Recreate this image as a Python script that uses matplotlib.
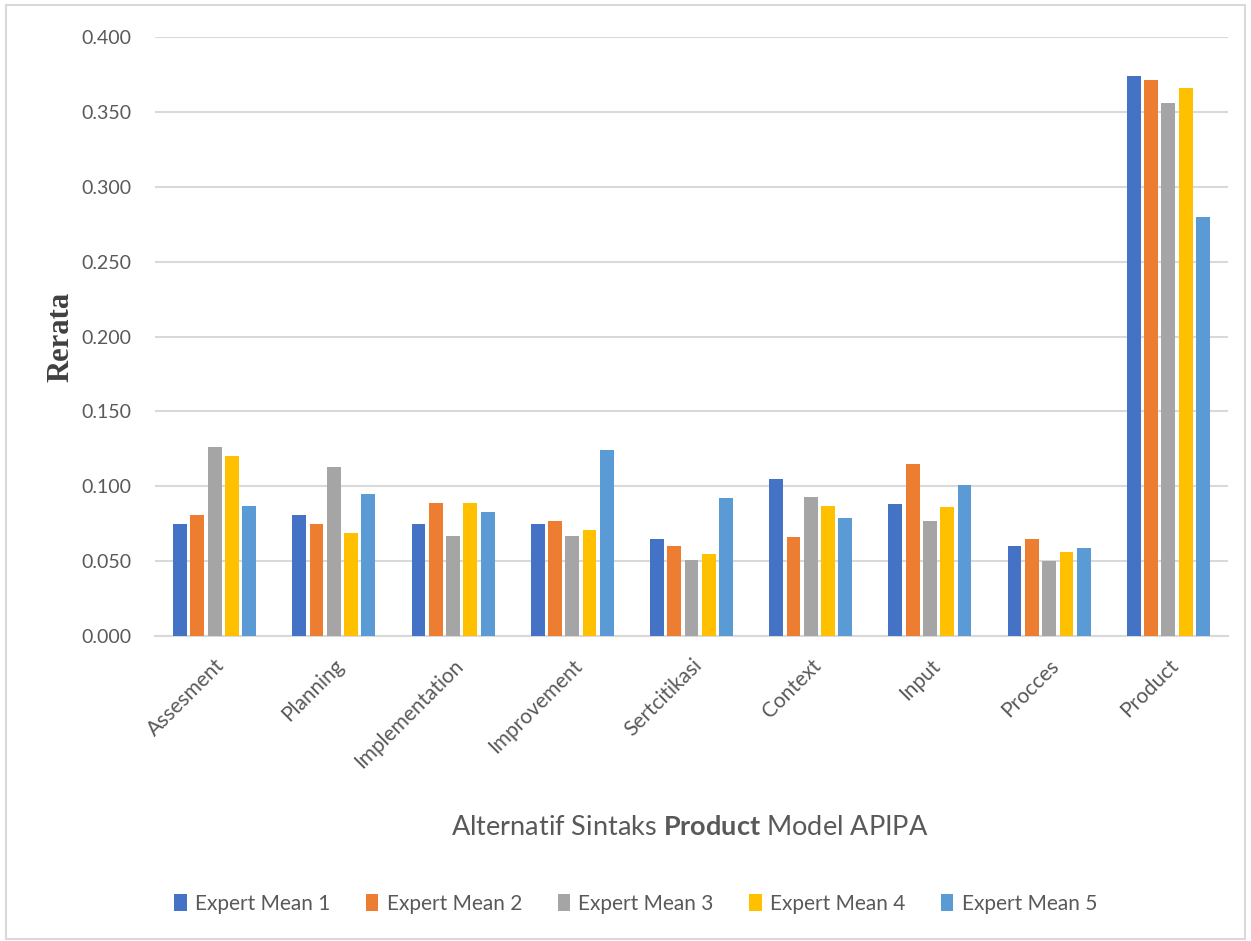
import matplotlib
matplotlib.use('Agg')
import matplotlib.pyplot as plt
import numpy as np
from matplotlib.patches import Rectangle

categories = ['Assesment', 'Planning', 'Implementation', 'Improvement', 'Sertcitikasi',
              'Context', 'Input', 'Procces', 'Product']
series_names = ['Expert Mean 1', 'Expert Mean 2', 'Expert Mean 3', 'Expert Mean 4', 'Expert Mean 5']
mean1 = [0.075, 0.081, 0.075, 0.075, 0.065, 0.105, 0.088, 0.060, 0.374]
mean2 = [0.081, 0.075, 0.089, 0.077, 0.060, 0.066, 0.115, 0.065, 0.371]
mean3 = [0.126, 0.113, 0.067, 0.067, 0.051, 0.093, 0.077, 0.050, 0.356]
mean4 = [0.120, 0.069, 0.089, 0.071, 0.055, 0.087, 0.086, 0.056, 0.366]
mean5 = [0.087, 0.095, 0.083, 0.124, 0.092, 0.079, 0.101, 0.059, 0.280]
colors = ['#4472C4', '#ED7D31', '#A5A5A5', '#FFC000', '#5B9BD5']

plt.rcParams['font.family'] = ['Lato', 'DejaVu Sans']
plt.rcParams['mathtext.fontset'] = 'custom'
plt.rcParams['mathtext.bf'] = 'Lato:bold'
plt.rcParams['mathtext.rm'] = 'Lato'

fig = plt.figure(figsize=(12.51, 9.41), dpi=100)
ax = fig.add_axes([0.1239, 0.3241, 0.8577, 0.6366])

x = np.arange(len(categories))
slot = 0.145
for i, vals in enumerate([mean1, mean2, mean3, mean4, mean5]):
    ax.bar(x + (i - 2) * slot, vals, width=slot * 0.8, color=colors[i],
           label=series_names[i], zorder=3)

ax.set_xlim(-0.5, len(categories) - 0.5)
ax.set_ylim(0, 0.4)
ax.set_yticks(np.arange(0, 0.401, 0.05))
ax.set_yticklabels(['%.3f' % v for v in np.arange(0, 0.401, 0.05)])
ax.grid(True, axis='y', color='#D9D9D9', linewidth=1.5, zorder=0)
for s in ['top', 'right', 'left']:
    ax.spines[s].set_visible(False)
ax.spines['bottom'].set_color('#D9D9D9')
ax.spines['bottom'].set_linewidth(1.5)
ax.tick_params(axis='both', length=0, colors='#595959', labelsize=14)
ax.tick_params(axis='y', pad=17)
ax.set_xticks(x)
ax.set_xticklabels(categories, rotation=45, ha='right', rotation_mode='anchor')
ax.tick_params(axis='x', pad=14, labelsize=15)

ax.set_ylabel('Rerata', fontfamily='Liberation Serif', fontweight='bold', fontsize=22,
              color='#404040')
ax.yaxis.set_label_coords(-0.074, 0.5)

fig.text(0.551, 0.121, r'Alternatif Sintaks $\mathbf{Product}$ Model APIPA', ha='center', va='center',
         fontsize=19.5, color='#595959')

ax.legend(loc='center', bbox_to_anchor=(0.5 - 0.052, -0.447), ncol=5, frameon=False,
          fontsize=15, labelcolor='#595959', handlelength=0.6, handleheight=0.9,
          handletextpad=0.4, columnspacing=1.7)

fig.patches.append(Rectangle((0.005, 0.002), 0.99, 0.993, transform=fig.transFigure,
                             fill=False, edgecolor='#D9D9D9', linewidth=1.5))

fig.savefig('out.png', dpi=100)
